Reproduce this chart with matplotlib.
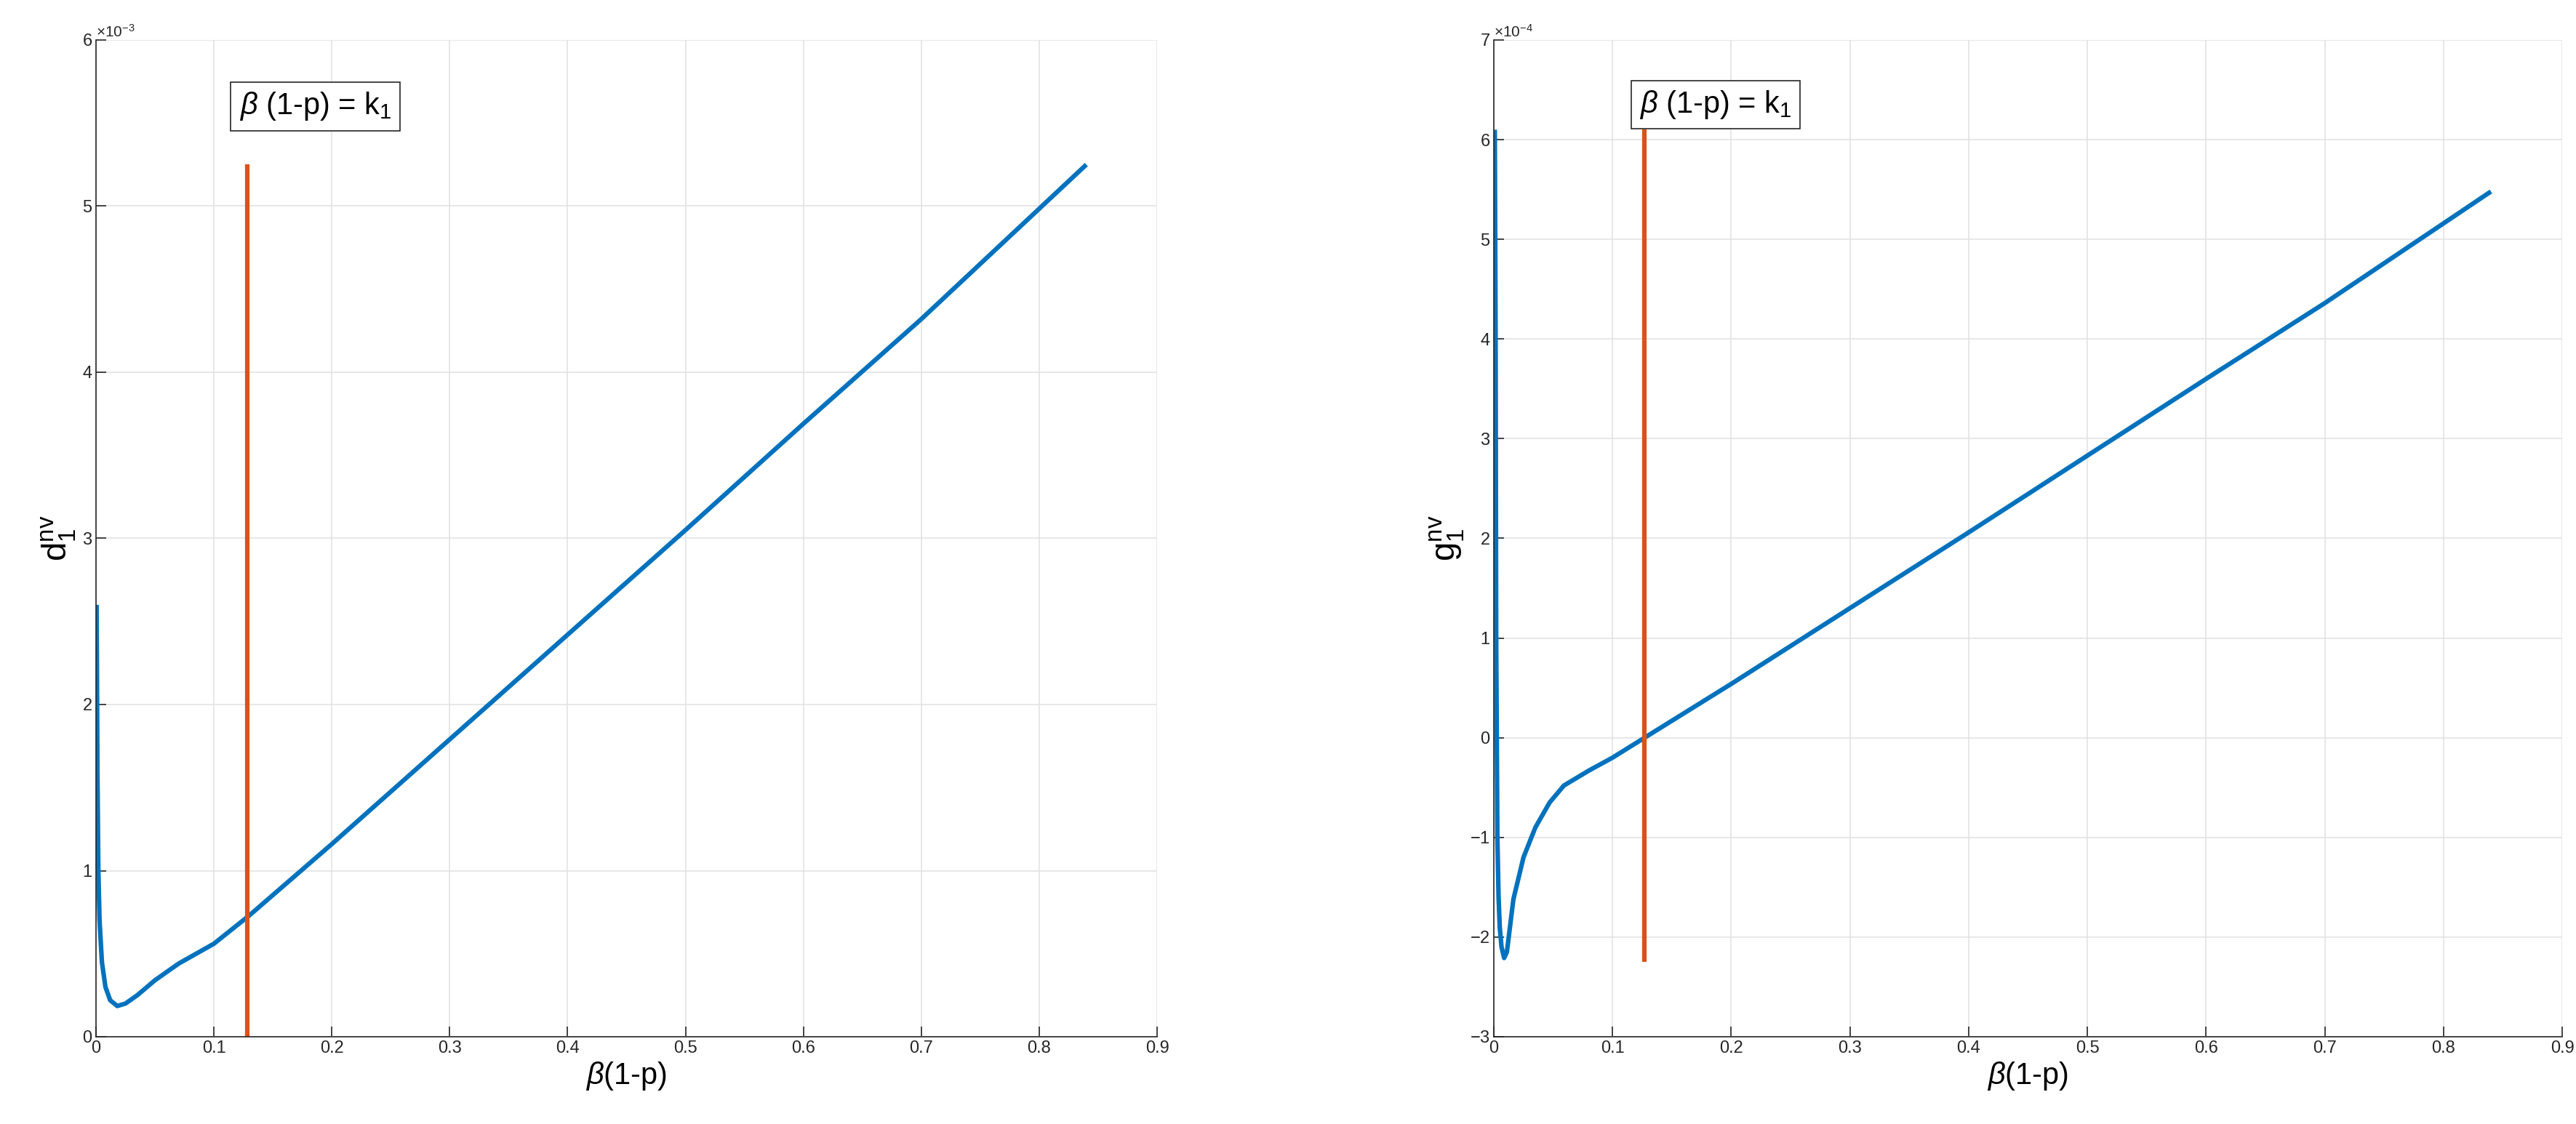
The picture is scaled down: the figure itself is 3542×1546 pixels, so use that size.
import numpy as np
import matplotlib.pyplot as plt
from matplotlib.ticker import ScalarFormatter

plt.rcParams['font.family'] = ['Liberation Sans', 'DejaVu Sans']
plt.rcParams['mathtext.fontset'] = 'custom'
plt.rcParams['mathtext.rm'] = 'Liberation Sans'
plt.rcParams['mathtext.it'] = 'Liberation Sans:italic'

# left panel: d_1^nv vs beta(1-p)
d_x = [0.0005, 0.0008, 0.0012, 0.002, 0.003, 0.005, 0.008, 0.012, 0.018, 0.025, 0.035,
       0.05, 0.07, 0.1, 0.13, 0.2, 0.3, 0.4, 0.5, 0.6, 0.7, 0.84]
d_y = [2.6e-3, 2.2e-3, 1.6e-3, 1.0e-3, 0.7e-3, 0.45e-3, 0.3e-3, 0.22e-3, 0.185e-3, 0.2e-3, 0.25e-3,
       0.34e-3, 0.44e-3, 0.56e-3, 0.73e-3, 1.16e-3, 1.79e-3, 2.42e-3, 3.05e-3, 3.69e-3, 4.32e-3, 5.25e-3]
d_k1 = 0.128

# right panel: g_1^nv vs beta(1-p)
g_x = [0.0008, 0.0012, 0.0015, 0.002, 0.003, 0.004, 0.005, 0.0065, 0.0087, 0.011, 0.0165, 0.025,
       0.035, 0.047, 0.059, 0.08, 0.1, 0.127, 0.2, 0.3, 0.4, 0.5, 0.6, 0.7, 0.84]
g_y = [6.1e-4, 5.0e-4, 4.0e-4, 1.0e-4, -1.0e-4, -1.6e-4, -1.9e-4, -2.1e-4, -2.21e-4, -2.15e-4, -1.62e-4, -1.2e-4,
       -0.9e-4, -0.65e-4, -0.48e-4, -0.33e-4, -0.2e-4, 0.0, 0.54e-4, 1.3e-4, 2.06e-4, 2.83e-4, 3.6e-4, 4.36e-4, 5.48e-4]
g_k1 = 0.127

blue = '#0072BD'
red = '#D95319'

fig = plt.figure(figsize=(35.42, 15.46), dpi=100)
ax1 = fig.add_axes([132 / 3542, 1 - 1426 / 1546, 1459 / 3542, 1371 / 1546])
ax2 = fig.add_axes([2054 / 3542, 1 - 1426 / 1546, 1469 / 3542, 1371 / 1546])


def style(ax, ylim, yticks):
    ax.set_xlim(0, 0.9)
    ax.set_xticks(np.arange(0, 0.91, 0.1))
    ax.set_xticklabels(['0'] + ['%.1f' % v for v in np.arange(0.1, 0.91, 0.1)])
    ax.set_ylim(*ylim)
    ax.set_yticks(yticks)
    fmt = ScalarFormatter(useMathText=True)
    fmt.set_powerlimits((0, 0))
    ax.yaxis.set_major_formatter(fmt)
    ax.yaxis.get_offset_text().set_fontsize(15)
    ax.grid(True, color='#e3e3e3', linewidth=1.2)
    ax.set_axisbelow(True)
    ax.tick_params(labelsize=17, direction='in', length=10, width=1.2, colors='#262626')
    for s in ['top', 'right']:
        ax.spines[s].set_visible(False)
    for s in ['left', 'bottom']:
        ax.spines[s].set_color('#262626')
        ax.spines[s].set_linewidth(1.2)
    ax.set_xlabel(r'$\beta$(1-p)', fontsize=30)


ax1.plot(d_x, d_y, color=blue, linewidth=4.5, solid_capstyle='butt')
ax1.plot([d_k1, d_k1], [0, max(d_y)], color=red, linewidth=4.5, solid_capstyle='butt')
style(ax1, (0, 6e-3), np.arange(0, 6.1e-3, 1e-3))
ax1.set_ylabel(r'$\mathregular{d_1^{nv}}$', fontsize=34)
ax1.text(0.186, 5.6e-3, r'$\beta$ (1-p) = k$_\mathregular{1}$', fontsize=30, ha='center', va='center',
         bbox=dict(facecolor='white', edgecolor='#262626', linewidth=1.2, pad=8))

ax2.plot(g_x, g_y, color=blue, linewidth=4.5, solid_capstyle='butt')
ax2.plot([g_k1, g_k1], [min(g_y) - 0.04e-4, max(g_y)], color=red, linewidth=4.5, solid_capstyle='butt')
style(ax2, (-3e-4, 7e-4), np.arange(-3e-4, 7.1e-4, 1e-4))
ax2.set_ylabel(r'$\mathregular{g_1^{nv}}$', fontsize=34)
ax2.text(0.187, 6.35e-4, r'$\beta$ (1-p) = k$_\mathregular{1}$', fontsize=30, ha='center', va='center',
         bbox=dict(facecolor='white', edgecolor='#262626', linewidth=1.2, pad=8))

fig.savefig('out.png', dpi=100)
